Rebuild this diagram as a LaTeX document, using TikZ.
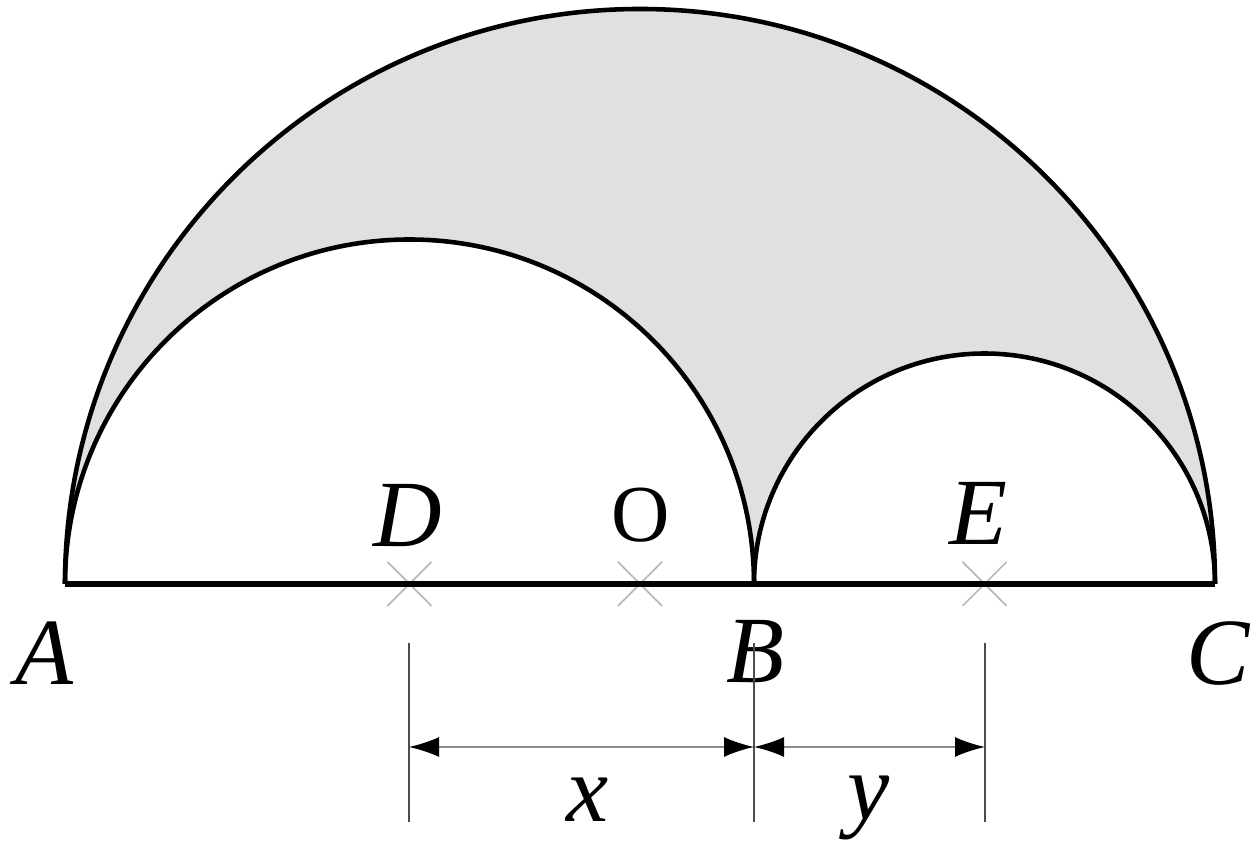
\documentclass[tikz,border=0pt]{standalone}
\usepackage{fontspec}
\setmainfont{Liberation Serif}
\usetikzlibrary{arrows.meta}
\begin{document}
\begin{tikzpicture}[
    arcline/.style={line width=1.3pt, black},
    shadefill/.style={fill=gray!24},
    crossline/.style={gray!55, line width=0.5pt},
    dimline/.style={black!70, line width=0.5pt},
    dimarr/.style={{Latex[length=3mm,width=2mm,color=black]}-{Latex[length=3mm,width=2mm,color=black]}, black!45, line width=0.5pt},
    ptlabel/.style={font=\fontsize{27}{30}\selectfont\itshape, inner sep=0pt, anchor=base},
    ctrlabel/.style={font=\fontsize{23}{26}\selectfont, inner sep=0pt, anchor=base}]
  \useasboundingbox (0,0) rectangle (12.52,-8.41);
  % points on the diameter
  \coordinate (A) at (0.65,-5.84);
  \coordinate (D) at (4.095,-5.84);
  \coordinate (O) at (6.40,-5.84);
  \coordinate (B) at (7.54,-5.84);
  \coordinate (E) at (9.845,-5.84);
  \coordinate (C) at (12.15,-5.84);
  % centre marks
  \foreach \p in {D,O,E}
    \draw[crossline] (\p) +(-0.22,0.22) -- +(0.22,-0.22)
                     (\p) +(-0.22,-0.22) -- +(0.22,0.22);
  % shaded region between the arcs
  \fill[shadefill] (A) arc[start angle=180, end angle=0, radius=5.75]
                       arc[start angle=0, end angle=180, radius=2.305]
                       arc[start angle=0, end angle=180, radius=3.445] -- cycle;
  \draw[arcline] (A) arc[start angle=180, end angle=0, radius=5.75];
  \draw[arcline] (A) arc[start angle=180, end angle=0, radius=3.445];
  \draw[arcline] (B) arc[start angle=180, end angle=0, radius=2.305];
  \draw[arcline, line width=1.5pt] (A) -- (C);
  % labels
  \node[ptlabel]  (lD) at (4.075,-5.47) {D};
  \node[ctrlabel] (lO) at (6.41,-5.42)  {O};
  \node[ptlabel]  (lE) at (9.78,-5.45)  {E};
  \node[ptlabel]  (lA) at (0.44,-6.85)  {A};
  \node[ptlabel]  (lB) at (7.55,-6.83)  {B};
  \node[ptlabel]  (lC) at (12.18,-6.85) {C};
  % dimensions
  \coordinate (d1) at (4.09,-6.43);  \coordinate (d2) at (4.09,-8.22);
  \coordinate (b1) at (7.54,-6.43);  \coordinate (b2) at (7.54,-8.22);
  \coordinate (e1) at (9.85,-6.43);  \coordinate (e2) at (9.85,-8.22);
  \coordinate (xl) at (4.09,-7.47);
  \coordinate (xm) at (7.54,-7.47);
  \coordinate (xr) at (9.85,-7.47);
  \draw[dimline] (d1) -- (d2);
  \draw[dimline] (b1) -- (b2);
  \draw[dimline] (e1) -- (e2);
  \draw[dimarr] (xl) -- (xm);
  \draw[dimarr] (xm) -- (xr);
  \node[ptlabel] (lx) at (5.88,-8.22) {x};
  \node[ptlabel] (ly) at (8.69,-8.20) {y};
\end{tikzpicture}
\end{document}
